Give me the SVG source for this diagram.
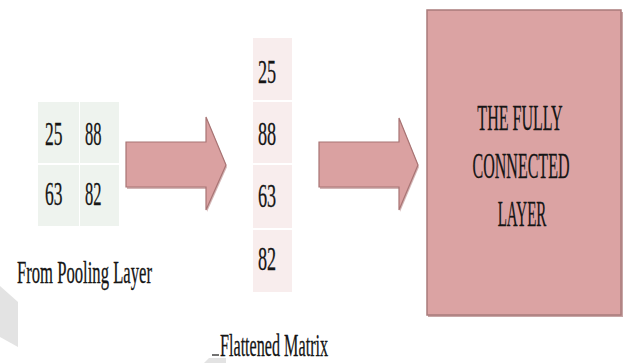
<svg xmlns="http://www.w3.org/2000/svg" width="625" height="363" viewBox="0 0 625 363">
  <style>
    text { font-family: "Liberation Serif", "Times New Roman", serif; fill: #151515; stroke: #151515; stroke-width: 0.3px; }
    .num { font-size: 33px; }
    .lbl { font-size: 32px; }
    .fc  { font-size: 36px; text-anchor: middle; }
    .pool { fill: #eef3ee; }
    .flat { fill: #f8eded; }
    .arrow { fill: #daa1a1; stroke: #a87474; stroke-width: 1.2; stroke-linejoin: miter; }
    .shadow { fill: #b88686; opacity: 0.6; }
    .mark { fill: #e3e3e3; }
  </style>
  <rect width="625" height="363" fill="#ffffff"/>

  <!-- faint background marks -->
  <polygon class="mark" points="0,286 18,302 18,347 0,337"/>
  <polygon class="mark" points="204,363 209,358 226,358 226,363"/>

  <!-- 2x2 pooled matrix -->
  <g id="pooled-matrix">
    <rect class="pool" x="38" y="102" width="41" height="61"/>
    <rect class="pool" x="80" y="102" width="39" height="61"/>
    <rect class="pool" x="38" y="165" width="41" height="61"/>
    <rect class="pool" x="80" y="165" width="39" height="61"/>
    <text class="num" transform="translate(45,145) scale(0.53,1)">25</text>
    <text class="num" transform="translate(85,145) scale(0.5,1)">88</text>
    <text class="num" transform="translate(45,205) scale(0.53,1)">63</text>
    <text class="num" transform="translate(85,205) scale(0.5,1)">82</text>
  </g>

  <g id="pooling-label">
    <text class="lbl" transform="translate(17,283) scale(0.52,1)">From Pooling Layer</text>
  </g>

  <!-- flattened column -->
  <g id="flattened-matrix">
    <rect class="flat" x="253" y="38" width="39" height="62"/>
    <rect class="flat" x="253" y="102" width="39" height="61"/>
    <rect class="flat" x="253" y="165" width="39" height="63"/>
    <rect class="flat" x="253" y="230" width="39" height="62"/>
    <text class="num" transform="translate(258,83) scale(0.55,1)">25</text>
    <text class="num" transform="translate(258,145) scale(0.55,1)">88</text>
    <text class="num" transform="translate(258,207) scale(0.55,1)">63</text>
    <text class="num" transform="translate(258,270) scale(0.55,1)">82</text>
  </g>

  <g id="flattened-label">
    <line x1="212" y1="355" x2="219" y2="355" stroke="#151515" stroke-width="1.2"/>
    <text class="lbl" transform="translate(220,356) scale(0.505,1)">Flattened Matrix</text>
  </g>

  <!-- fully connected layer block -->
  <g id="fully-connected">
    <rect x="428" y="12" width="195" height="305" fill="#b08080" opacity="0.7"/>
    <rect x="427" y="10" width="194" height="305" fill="#dba3a3" stroke="#a97b7b" stroke-width="1.5"/>
    <text class="fc" transform="translate(520,130) scale(0.446,1)">THE FULLY</text>
    <text class="fc" transform="translate(521,178) scale(0.445,1)">CONNECTED</text>
    <text class="fc" transform="translate(522,226) scale(0.417,1)">LAYER</text>
  </g>

  <!-- connectors -->
  <g id="connectors">
    <polygon class="shadow" points="127,144 207,144 207,119 227,167 207,212 207,189 127,189"/>
    <polygon class="arrow" points="126,142 206,142 206,117 226,165 206,210 206,187 126,187"/>
    <polygon class="shadow" points="320,144 400,144 400,120 419,167 400,212 400,189 320,189"/>
    <polygon class="arrow" points="319,142 399,142 399,118 418,165 399,210 399,187 319,187"/>
  </g>
</svg>
